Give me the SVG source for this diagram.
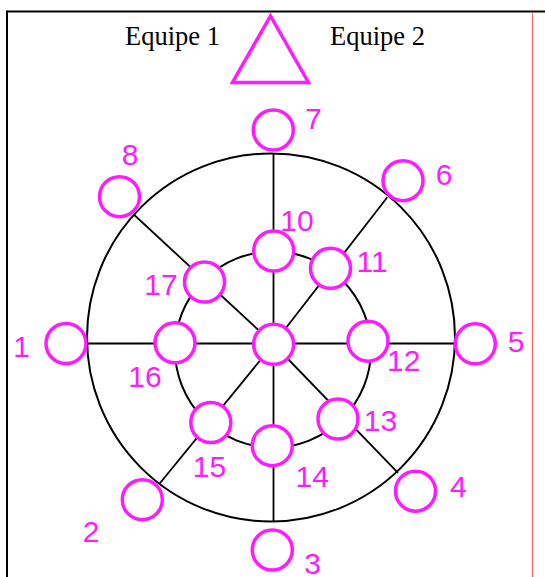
<svg xmlns="http://www.w3.org/2000/svg" width="545" height="577" viewBox="0 0 545 577">
  <style>
    .frame { stroke: #000; stroke-width: 2; fill: none; }
    .ring { stroke: #000; stroke-width: 2; fill: none; }
    .spoke { stroke: #000; stroke-width: 1.8; fill: none; }
    .node circle { fill: #fff; stroke: #ff1aff; stroke-width: 3.5; }
    .lbl { font-family: "Liberation Sans", Arial, sans-serif; font-size: 30px; fill: #ff1aff; text-anchor: middle; }
    .team { font-family: "Liberation Serif", "Times New Roman", serif; font-size: 26.5px; fill: #000; }
  </style>
  <rect x="0" y="0" width="545" height="577" fill="#fff"/>
  <g id="frame">
    <line class="frame" x1="7" y1="11.5" x2="545" y2="11.5"/>
    <line class="frame" x1="7" y1="10.5" x2="7" y2="577"/>
    <line x1="532.5" y1="12.5" x2="532.5" y2="577" stroke="#ff6060" stroke-width="1"/>
  </g>
  <g id="header">
    <text class="team" x="125" y="44.5">Equipe 1</text>
    <text class="team" x="330" y="44.5">Equipe 2</text>
    <polygon id="triangle" points="270.5,16 232.5,82.5 308.5,82.5" fill="none" stroke="#ff1aff" stroke-width="3.5" stroke-linejoin="miter"/>
  </g>
  <g id="rings">
    <circle class="ring" cx="271" cy="337.5" r="184"/>
    <circle class="ring" cx="273" cy="349.5" r="98"/>
  </g>
  <g id="connectors">
    <line class="spoke" x1="273.5" y1="153.5" x2="273.5" y2="521.5"/>
    <line class="spoke" x1="87" y1="343.5" x2="455" y2="343.5"/>
    <line class="spoke" x1="134.3" y1="215" x2="273.5" y2="344"/>
    <line class="spoke" x1="387.3" y1="197.3" x2="273.5" y2="344"/>
    <line class="spoke" x1="159.3" y1="484" x2="273.5" y2="344"/>
    <line class="spoke" x1="398" y1="472.8" x2="273.5" y2="344"/>
  </g>
  <g id="center" class="node"><circle cx="273.6" cy="344.3" r="20"/></g>
  <g id="n1" class="node"><circle cx="66" cy="343.5" r="20"/><text class="lbl" x="21.5" y="357">1</text></g>
  <g id="n2" class="node"><circle cx="142.3" cy="499.7" r="20"/><text class="lbl" x="91.2" y="541.5">2</text></g>
  <g id="n3" class="node"><circle cx="272.3" cy="550" r="20"/><text class="lbl" x="312.5" y="574">3</text></g>
  <g id="n4" class="node"><circle cx="415.5" cy="491.2" r="20"/><text class="lbl" x="458.4" y="497">4</text></g>
  <g id="n5" class="node"><circle cx="475.3" cy="343.8" r="20"/><text class="lbl" x="516" y="352">5</text></g>
  <g id="n6" class="node"><circle cx="403" cy="180.7" r="20"/><text class="lbl" x="444" y="185">6</text></g>
  <g id="n7" class="node"><circle cx="273.3" cy="130" r="20"/><text class="lbl" x="313.7" y="129.3">7</text></g>
  <g id="n8" class="node"><circle cx="119.5" cy="196.7" r="20"/><text class="lbl" x="130" y="165">8</text></g>
  <g id="n10" class="node"><circle cx="273.7" cy="251" r="20"/><text class="lbl" x="297" y="231">10</text></g>
  <g id="n11" class="node"><circle cx="330.5" cy="268.3" r="20"/><text class="lbl" x="372" y="272">11</text></g>
  <g id="n12" class="node"><circle cx="368" cy="341.2" r="20"/><text class="lbl" x="403.8" y="370.7">12</text></g>
  <g id="n13" class="node"><circle cx="338" cy="419" r="20"/><text class="lbl" x="380.5" y="431">13</text></g>
  <g id="n14" class="node"><circle cx="272.3" cy="445.7" r="20"/><text class="lbl" x="312.3" y="487">14</text></g>
  <g id="n15" class="node"><circle cx="210.8" cy="422.5" r="20"/><text class="lbl" x="209.5" y="477.3">15</text></g>
  <g id="n16" class="node"><circle cx="175" cy="342.8" r="20"/><text class="lbl" x="145" y="387.3">16</text></g>
  <g id="n17" class="node"><circle cx="204.5" cy="282" r="20"/><text class="lbl" x="161" y="295">17</text></g>
</svg>
